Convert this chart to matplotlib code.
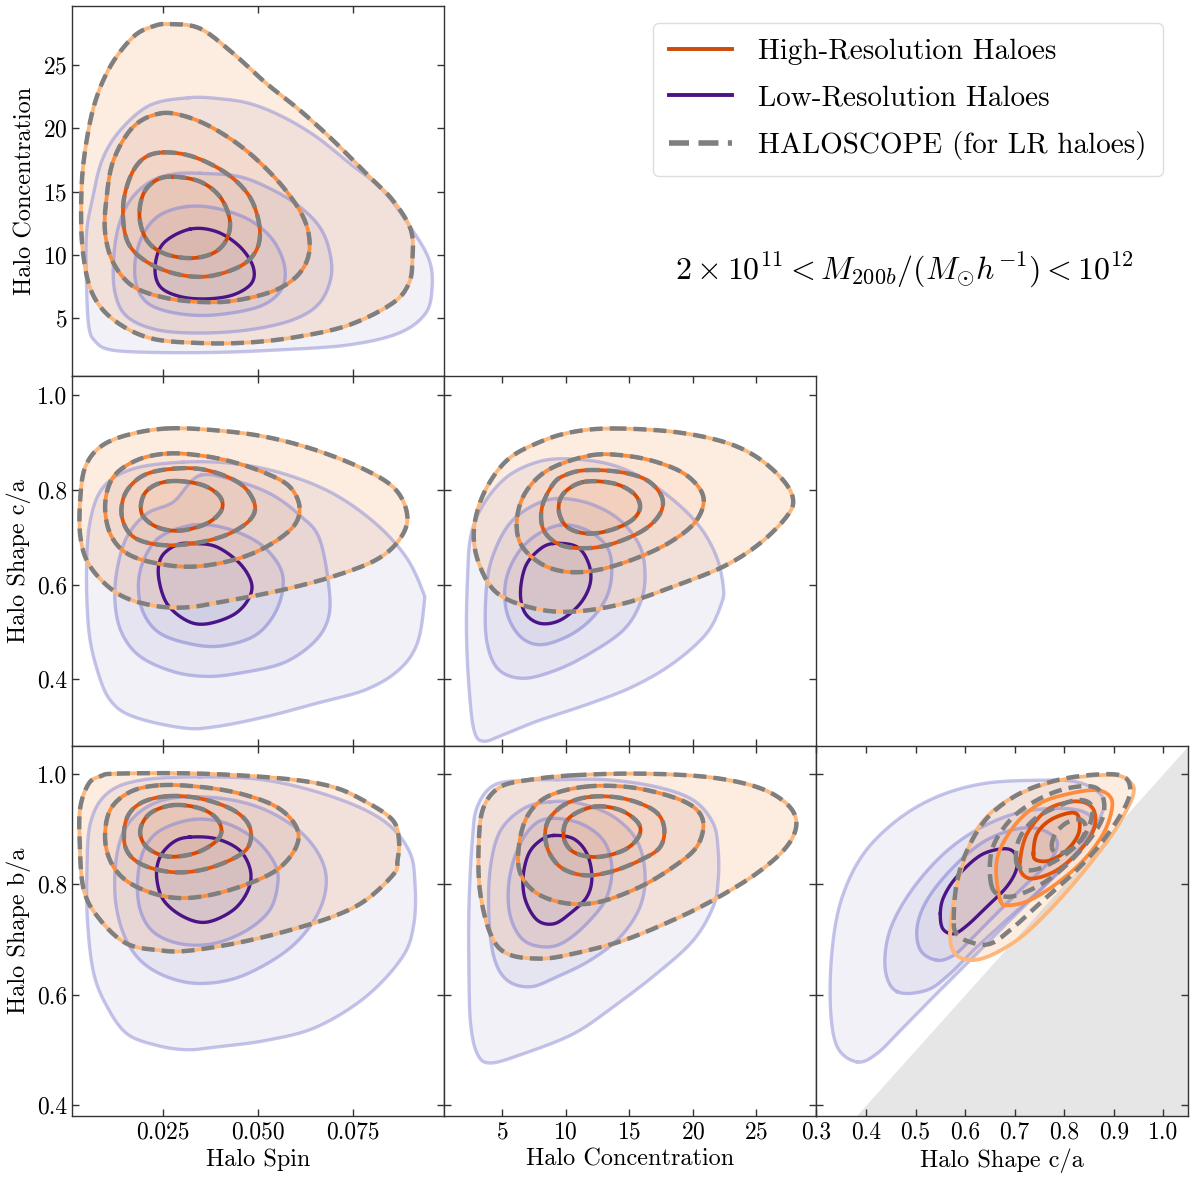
import matplotlib
matplotlib.use("Agg")
import matplotlib.pyplot as plt
import numpy as np
from matplotlib.lines import Line2D
from matplotlib.ticker import FormatStrFormatter

# Contours, outermost level first.
# Each contour is a closed list of (x, y) vertices in data units.

# ---- Halo Spin vs Halo Concentration ----
SPIN_CONC_HR = [
    [(0.0269, 28.24), (0.0348, 27.89), (0.0435, 25.92), (0.0522, 23.55), (0.0609, 21.45),
     (0.0696, 19.08), (0.0783, 16.45), (0.0853, 14.34), (0.0901, 11.97), (0.0905, 9.61),
     (0.0896, 7.76), (0.0853, 6.18), (0.0740, 4.47), (0.0609, 3.55), (0.0478, 3.08),
     (0.0348, 3.03), (0.0217, 3.42), (0.0121, 4.87), (0.0065, 6.97), (0.0041, 10.13),
     (0.0036, 13.82), (0.0043, 17.50), (0.0069, 21.71), (0.0112, 24.87), (0.0173, 27.24),
     (0.0226, 28.08)],
    [(0.0243, 21.18), (0.0313, 20.92), (0.0391, 19.87), (0.0478, 18.03), (0.0565, 15.39),
     (0.0622, 12.76), (0.0635, 10.39), (0.0609, 8.55), (0.0548, 7.24), (0.0452, 6.45),
     (0.0365, 6.26), (0.0261, 6.58), (0.0173, 7.50), (0.0121, 9.34), (0.0099, 11.71),
     (0.0102, 14.34), (0.0121, 17.50), (0.0173, 20.13)],
    [(0.0252, 18.10), (0.0330, 17.76), (0.0417, 16.45), (0.0478, 14.60), (0.0504, 12.24),
     (0.0496, 10.39), (0.0452, 9.08), (0.0365, 8.29), (0.0278, 8.55), (0.0200, 9.61),
     (0.0156, 11.18), (0.0146, 13.82), (0.0165, 16.18), (0.0200, 17.63)],
    [(0.0278, 16.18), (0.0348, 15.79), (0.0400, 14.60), (0.0426, 12.76), (0.0417, 11.18),
     (0.0382, 10.13), (0.0321, 9.74), (0.0252, 10.13), (0.0208, 11.18), (0.0189, 13.02),
     (0.0200, 14.87), (0.0234, 15.92)],
]
SPIN_CONC_LR = [
    [(0.0317, 22.42), (0.0391, 22.37), (0.0478, 21.97), (0.0565, 20.92), (0.0653, 19.34),
     (0.0740, 17.24), (0.0827, 15.13), (0.0905, 11.97), (0.0949, 9.61), (0.0957, 7.50),
     (0.0940, 5.39), (0.0870, 3.82), (0.0740, 2.89), (0.0565, 2.50), (0.0391, 2.29),
     (0.0217, 2.29), (0.0112, 2.50), (0.0073, 3.16), (0.0056, 4.34), (0.0050, 7.76),
     (0.0050, 11.71), (0.0065, 14.34), (0.0091, 17.50), (0.0139, 19.87), (0.0217, 21.84)],
    [(0.0348, 16.45), (0.0452, 16.18), (0.0539, 15.13), (0.0609, 13.82), (0.0661, 12.24),
     (0.0687, 10.39), (0.0692, 8.29), (0.0661, 6.18), (0.0592, 4.87), (0.0478, 4.08),
     (0.0348, 3.82), (0.0234, 4.08), (0.0156, 5.13), (0.0125, 6.97), (0.0121, 9.61),
     (0.0134, 12.24), (0.0165, 14.34), (0.0217, 15.79), (0.0278, 16.39)],
    [(0.0313, 13.82), (0.0391, 13.68), (0.0478, 12.76), (0.0539, 11.18), (0.0570, 9.08),
     (0.0561, 7.24), (0.0504, 5.92), (0.0391, 5.26), (0.0295, 5.34), (0.0217, 6.05),
     (0.0182, 7.50), (0.0178, 9.61), (0.0200, 11.71), (0.0243, 13.16)],
    [(0.0321, 12.03), (0.0391, 11.84), (0.0452, 10.66), (0.0487, 9.08), (0.0483, 7.76),
     (0.0435, 6.84), (0.0365, 6.52), (0.0295, 6.71), (0.0243, 7.50), (0.0230, 9.08),
     (0.0252, 10.92)],
]
SPIN_CONC_HS = SPIN_CONC_HR  # HALOSCOPE lies on top of the HR contours here

# ---- Halo Spin vs Halo Shape c/a ----
SPIN_CA_HR = [
    [(0.0261, 0.930), (0.0391, 0.926), (0.0522, 0.912), (0.0653, 0.884), (0.0783, 0.842),
     (0.0862, 0.800), (0.0892, 0.743), (0.0870, 0.694), (0.0809, 0.652), (0.0696, 0.617),
     (0.0565, 0.589), (0.0435, 0.568), (0.0313, 0.552), (0.0217, 0.557), (0.0130, 0.582),
     (0.0060, 0.638), (0.0034, 0.701), (0.0034, 0.786), (0.0047, 0.849), (0.0086, 0.891),
     (0.0156, 0.916)],
    [(0.0261, 0.877), (0.0348, 0.873), (0.0435, 0.859), (0.0522, 0.835), (0.0583, 0.807),
     (0.0609, 0.764), (0.0592, 0.722), (0.0522, 0.680), (0.0435, 0.652), (0.0330, 0.638),
     (0.0234, 0.645), (0.0156, 0.666), (0.0112, 0.708), (0.0099, 0.771), (0.0121, 0.828),
     (0.0182, 0.863)],
    [(0.0278, 0.845), (0.0365, 0.842), (0.0452, 0.814), (0.0491, 0.771), (0.0478, 0.736),
     (0.0417, 0.705), (0.0330, 0.687), (0.0243, 0.684), (0.0173, 0.701), (0.0143, 0.743),
     (0.0152, 0.793), (0.0200, 0.831)],
    [(0.0287, 0.819), (0.0356, 0.810), (0.0400, 0.786), (0.0404, 0.757), (0.0365, 0.729),
     (0.0295, 0.714), (0.0234, 0.722), (0.0195, 0.750), (0.0200, 0.789), (0.0234, 0.812)],
]
SPIN_CA_LR = [
    [(0.0304, 0.859), (0.0435, 0.856), (0.0565, 0.835), (0.0696, 0.793), (0.0809, 0.729),
     (0.0888, 0.659), (0.0931, 0.589), (0.0936, 0.560), (0.0918, 0.476), (0.0870, 0.420),
     (0.0783, 0.378), (0.0653, 0.349), (0.0522, 0.321), (0.0391, 0.300), (0.0304, 0.297),
     (0.0173, 0.321), (0.0112, 0.356), (0.0078, 0.420), (0.0056, 0.504), (0.0050, 0.631),
     (0.0060, 0.736), (0.0095, 0.807), (0.0173, 0.845)],
    [(0.0348, 0.831), (0.0452, 0.817), (0.0539, 0.789), (0.0609, 0.747), (0.0661, 0.698),
     (0.0687, 0.589), (0.0683, 0.525), (0.0644, 0.476), (0.0565, 0.434), (0.0452, 0.413),
     (0.0365, 0.406), (0.0278, 0.416), (0.0191, 0.448), (0.0143, 0.497), (0.0125, 0.560),
     (0.0130, 0.631), (0.0156, 0.701), (0.0208, 0.750), (0.0278, 0.775)],
    [(0.0330, 0.726), (0.0417, 0.719), (0.0504, 0.687), (0.0557, 0.638), (0.0565, 0.589),
     (0.0539, 0.532), (0.0487, 0.490), (0.0400, 0.470), (0.0321, 0.475), (0.0243, 0.497),
     (0.0200, 0.539), (0.0186, 0.596), (0.0200, 0.652), (0.0243, 0.701)],
    [(0.0330, 0.687), (0.0391, 0.680), (0.0452, 0.645), (0.0483, 0.603), (0.0474, 0.568),
     (0.0435, 0.536), (0.0365, 0.517), (0.0313, 0.524), (0.0261, 0.560), (0.0239, 0.617),
     (0.0247, 0.659), (0.0287, 0.684)],
]
SPIN_CA_HS = SPIN_CA_HR

# ---- Halo Concentration vs Halo Shape c/a ----
CONC_CA_HR = [
    [(13.76, 0.930), (18.46, 0.923), (22.39, 0.902), (25.00, 0.870), (27.09, 0.821),
     (27.88, 0.779), (27.35, 0.743), (25.26, 0.687), (22.39, 0.638), (18.46, 0.596),
     (14.54, 0.560), (10.62, 0.543), (7.48, 0.550), (4.61, 0.582), (3.17, 0.645),
     (2.78, 0.715), (3.56, 0.793), (5.39, 0.863), (8.01, 0.902), (10.62, 0.923)],
    [(11.93, 0.873), (14.54, 0.873), (17.16, 0.859), (19.51, 0.831), (20.82, 0.786),
     (20.29, 0.736), (18.46, 0.694), (15.85, 0.659), (12.71, 0.632), (10.10, 0.627),
     (8.01, 0.645), (6.44, 0.687), (6.18, 0.743), (6.96, 0.800), (8.79, 0.845)],
    [(11.67, 0.842), (14.28, 0.838), (16.37, 0.821), (17.55, 0.786), (17.42, 0.750),
     (16.11, 0.715), (13.76, 0.687), (11.67, 0.677), (9.58, 0.684), (8.27, 0.715),
     (8.14, 0.764), (9.05, 0.814), (10.10, 0.833)],
    [(11.41, 0.817), (13.76, 0.814), (15.33, 0.793), (15.85, 0.764), (15.20, 0.736),
     (13.50, 0.715), (11.67, 0.708), (10.10, 0.722), (9.45, 0.757), (9.84, 0.793)],
]
CONC_CA_LR = [
    [(10.10, 0.866), (13.24, 0.856), (15.85, 0.828), (18.46, 0.779), (20.56, 0.722),
     (21.86, 0.659), (22.39, 0.596), (22.25, 0.560), (21.08, 0.497), (18.46, 0.434),
     (15.33, 0.385), (11.93, 0.349), (8.01, 0.314), (5.39, 0.286), (3.56, 0.269),
     (2.78, 0.293), (2.39, 0.385), (2.20, 0.490), (2.25, 0.596), (2.52, 0.701),
     (3.56, 0.771), (5.39, 0.828), (7.75, 0.859)],
    [(9.31, 0.782), (11.93, 0.771), (14.28, 0.736), (15.85, 0.680), (16.24, 0.617),
     (15.85, 0.560), (14.54, 0.504), (11.93, 0.455), (9.31, 0.420), (6.70, 0.402),
     (4.74, 0.420), (3.82, 0.476), (3.69, 0.560), (4.08, 0.645), (5.39, 0.722),
     (7.22, 0.764)],
    [(9.58, 0.726), (11.67, 0.715), (13.24, 0.680), (13.63, 0.631), (13.24, 0.575),
     (11.93, 0.525), (10.10, 0.490), (8.01, 0.473), (6.44, 0.490), (5.39, 0.539),
     (5.26, 0.603), (6.05, 0.659), (7.48, 0.701)],
    [(9.05, 0.687), (10.88, 0.680), (11.80, 0.645), (11.93, 0.603), (11.14, 0.560),
     (9.58, 0.525), (8.01, 0.518), (6.83, 0.539), (6.44, 0.582), (6.83, 0.638),
     (7.88, 0.673)],
]
CONC_CA_HS = CONC_CA_HR

# ---- Halo Spin vs Halo Shape b/a ----
SPIN_BA_HR = [
    [(0.0130, 1.000), (0.0348, 1.000), (0.0565, 0.991), (0.0696, 0.976), (0.0783, 0.949),
     (0.0853, 0.916), (0.0870, 0.879), (0.0866, 0.843), (0.0857, 0.819), (0.0783, 0.771),
     (0.0696, 0.741), (0.0565, 0.713), (0.0435, 0.692), (0.0313, 0.679), (0.0243, 0.680),
     (0.0156, 0.692), (0.0086, 0.735), (0.0043, 0.789), (0.0032, 0.879), (0.0034, 0.940),
     (0.0056, 0.982), (0.0086, 0.995)],
    [(0.0243, 0.979), (0.0348, 0.976), (0.0452, 0.964), (0.0548, 0.940), (0.0600, 0.904),
     (0.0600, 0.867), (0.0548, 0.825), (0.0452, 0.795), (0.0348, 0.777), (0.0261, 0.777),
     (0.0173, 0.798), (0.0121, 0.831), (0.0099, 0.879), (0.0112, 0.934), (0.0165, 0.967)],
    [(0.0261, 0.959), (0.0348, 0.955), (0.0435, 0.934), (0.0478, 0.904), (0.0474, 0.867),
     (0.0426, 0.843), (0.0348, 0.825), (0.0269, 0.822), (0.0191, 0.837), (0.0152, 0.867),
     (0.0154, 0.916), (0.0191, 0.946)],
    [(0.0278, 0.943), (0.0348, 0.937), (0.0391, 0.919), (0.0404, 0.894), (0.0382, 0.873),
     (0.0330, 0.855), (0.0261, 0.850), (0.0208, 0.867), (0.0191, 0.897), (0.0217, 0.928)],
]
SPIN_BA_LR = [
    [(0.0348, 0.994), (0.0522, 0.988), (0.0696, 0.958), (0.0827, 0.916), (0.0896, 0.861),
     (0.0912, 0.801), (0.0909, 0.728), (0.0879, 0.668), (0.0783, 0.596), (0.0653, 0.541),
     (0.0522, 0.517), (0.0391, 0.505), (0.0313, 0.500), (0.0234, 0.508), (0.0156, 0.529),
     (0.0104, 0.578), (0.0069, 0.638), (0.0053, 0.728), (0.0051, 0.819), (0.0060, 0.910),
     (0.0104, 0.964), (0.0191, 0.988)],
    [(0.0313, 0.958), (0.0435, 0.952), (0.0539, 0.928), (0.0626, 0.885), (0.0674, 0.831),
     (0.0674, 0.777), (0.0635, 0.722), (0.0565, 0.674), (0.0452, 0.632), (0.0348, 0.620),
     (0.0261, 0.632), (0.0191, 0.662), (0.0147, 0.710), (0.0125, 0.777), (0.0130, 0.855),
     (0.0160, 0.910), (0.0226, 0.946)],
    [(0.0330, 0.917), (0.0417, 0.910), (0.0496, 0.879), (0.0544, 0.837), (0.0552, 0.801),
     (0.0531, 0.753), (0.0470, 0.716), (0.0382, 0.692), (0.0295, 0.692), (0.0226, 0.713),
     (0.0191, 0.753), (0.0184, 0.807), (0.0200, 0.861), (0.0243, 0.897)],
    [(0.0321, 0.885), (0.0391, 0.882), (0.0452, 0.861), (0.0480, 0.825), (0.0474, 0.789),
     (0.0435, 0.753), (0.0365, 0.731), (0.0304, 0.741), (0.0252, 0.771), (0.0234, 0.813),
     (0.0243, 0.849), (0.0278, 0.876)],
]
SPIN_BA_HS = SPIN_BA_HR

# ---- Halo Concentration vs Halo Shape b/a ----
CONC_BA_HR = [
    [(10.62, 0.997), (15.85, 1.000), (21.08, 0.994), (25.00, 0.976), (27.35, 0.946),
     (28.14, 0.910), (27.35, 0.867), (25.00, 0.819), (21.60, 0.771), (18.46, 0.735),
     (14.54, 0.698), (10.62, 0.674), (8.01, 0.665), (5.39, 0.674), (4.08, 0.710),
     (3.25, 0.789), (3.17, 0.879), (3.56, 0.940), (4.87, 0.976), (7.22, 0.989)],
    [(11.41, 0.976), (14.80, 0.976), (17.94, 0.961), (20.03, 0.940), (20.82, 0.910),
     (20.29, 0.867), (18.46, 0.831), (15.85, 0.795), (12.71, 0.768), (10.10, 0.765),
     (7.75, 0.783), (6.44, 0.819), (6.31, 0.867), (6.96, 0.922), (8.53, 0.958)],
    [(11.93, 0.958), (14.54, 0.955), (16.90, 0.934), (17.73, 0.904), (17.42, 0.867),
     (15.85, 0.843), (13.50, 0.822), (11.41, 0.816), (9.58, 0.831), (8.53, 0.867),
     (8.53, 0.910), (9.84, 0.943)],
    [(12.19, 0.940), (14.28, 0.934), (15.72, 0.910), (15.72, 0.885), (14.54, 0.861),
     (12.45, 0.849), (10.62, 0.858), (9.84, 0.885), (10.23, 0.919)],
]
CONC_BA_LR = [
    [(9.31, 0.989), (13.24, 0.989), (17.16, 0.976), (20.03, 0.952), (21.60, 0.910),
     (21.99, 0.861), (21.99, 0.807), (21.60, 0.759), (20.03, 0.698), (17.16, 0.638),
     (13.76, 0.578), (10.62, 0.529), (6.70, 0.493), (4.08, 0.476), (3.04, 0.493),
     (2.52, 0.547), (2.39, 0.638), (2.39, 0.759), (2.65, 0.879), (3.04, 0.940),
     (4.35, 0.979), (6.70, 0.988)],
    [(8.79, 0.949), (11.14, 0.946), (13.76, 0.922), (15.59, 0.879), (16.24, 0.819),
     (15.85, 0.759), (14.28, 0.704), (11.93, 0.662), (9.31, 0.632), (7.22, 0.614),
     (5.39, 0.626), (4.35, 0.668), (3.95, 0.747), (4.08, 0.831), (4.87, 0.897),
     (6.70, 0.937)],
    [(8.79, 0.919), (11.14, 0.910), (12.97, 0.879), (13.63, 0.831), (13.24, 0.777),
     (11.93, 0.735), (10.10, 0.698), (8.53, 0.686), (6.70, 0.698), (5.65, 0.741),
     (5.52, 0.801), (6.18, 0.861), (7.35, 0.904)],
    [(9.05, 0.888), (10.62, 0.882), (11.67, 0.855), (12.06, 0.813), (11.67, 0.777),
     (10.36, 0.747), (9.05, 0.728), (7.75, 0.735), (6.83, 0.771), (6.65, 0.813),
     (7.09, 0.855), (8.01, 0.879)],
]
CONC_BA_HS = CONC_BA_HR

# ---- Halo Shape c/a vs Halo Shape b/a ----
CA_BA_HR = [
    [(0.570, 0.710), (0.580, 0.783), (0.610, 0.873), (0.644, 0.922), (0.698, 0.958),
     (0.765, 0.982), (0.832, 0.994), (0.906, 0.997), (0.936, 0.982), (0.940, 0.964),
     (0.926, 0.934), (0.893, 0.885), (0.825, 0.807), (0.758, 0.741), (0.704, 0.698),
     (0.644, 0.668), (0.604, 0.663), (0.577, 0.677)],
    [(0.671, 0.771), (0.664, 0.843), (0.698, 0.904), (0.751, 0.946), (0.812, 0.964),
     (0.866, 0.970), (0.893, 0.958), (0.896, 0.934), (0.879, 0.891), (0.839, 0.843),
     (0.785, 0.801), (0.731, 0.771), (0.691, 0.762)],
    [(0.711, 0.843), (0.725, 0.891), (0.765, 0.934), (0.812, 0.949), (0.846, 0.946),
     (0.862, 0.928), (0.859, 0.897), (0.832, 0.861), (0.785, 0.825), (0.738, 0.810),
     (0.715, 0.819)],
    [(0.738, 0.855), (0.745, 0.891), (0.772, 0.916), (0.812, 0.929), (0.829, 0.922),
     (0.829, 0.891), (0.805, 0.861), (0.772, 0.843), (0.745, 0.843)],
]
CA_BA_LR = [
    [(0.382, 0.478), (0.342, 0.505), (0.328, 0.578), (0.332, 0.686), (0.352, 0.777),
     (0.395, 0.855), (0.463, 0.916), (0.543, 0.958), (0.637, 0.982), (0.745, 0.988),
     (0.825, 0.985), (0.872, 0.964), (0.879, 0.934), (0.839, 0.873), (0.772, 0.807),
     (0.691, 0.735), (0.610, 0.662), (0.543, 0.602), (0.476, 0.541), (0.422, 0.493)],
    [(0.463, 0.605), (0.439, 0.644), (0.446, 0.710), (0.483, 0.777), (0.543, 0.843),
     (0.610, 0.891), (0.691, 0.925), (0.772, 0.937), (0.839, 0.931), (0.859, 0.904),
     (0.825, 0.855), (0.758, 0.795), (0.691, 0.741), (0.624, 0.686), (0.570, 0.638),
     (0.523, 0.608)],
    [(0.543, 0.662), (0.510, 0.680), (0.503, 0.722), (0.523, 0.771), (0.570, 0.825),
     (0.631, 0.873), (0.691, 0.897), (0.745, 0.901), (0.785, 0.879), (0.772, 0.843),
     (0.718, 0.795), (0.664, 0.747), (0.610, 0.698), (0.577, 0.671)],
    [(0.550, 0.747), (0.557, 0.777), (0.583, 0.813), (0.631, 0.852), (0.678, 0.864),
     (0.701, 0.855), (0.704, 0.828), (0.684, 0.795), (0.644, 0.759), (0.604, 0.725),
     (0.577, 0.710), (0.555, 0.719)],
]
CA_BA_HS = [
    [(0.577, 0.735), (0.583, 0.801), (0.604, 0.861), (0.644, 0.919), (0.704, 0.961),
     (0.772, 0.985), (0.846, 0.997), (0.913, 0.997), (0.933, 0.976), (0.923, 0.940),
     (0.879, 0.879), (0.825, 0.825), (0.758, 0.771), (0.698, 0.722), (0.651, 0.692),
     (0.610, 0.695), (0.583, 0.710)],
    [(0.654, 0.795), (0.654, 0.861), (0.691, 0.916), (0.745, 0.952), (0.805, 0.973),
     (0.859, 0.976), (0.879, 0.955), (0.876, 0.916), (0.839, 0.867), (0.785, 0.819),
     (0.731, 0.789), (0.684, 0.777)],
    [(0.704, 0.837), (0.708, 0.879), (0.738, 0.916), (0.785, 0.940), (0.825, 0.952),
     (0.852, 0.946), (0.856, 0.922), (0.839, 0.885), (0.805, 0.855), (0.758, 0.831),
     (0.725, 0.825)],
    [(0.775, 0.867), (0.782, 0.891), (0.805, 0.911), (0.832, 0.917), (0.844, 0.902),
     (0.833, 0.879), (0.809, 0.861), (0.786, 0.856)],
]

SPIN_LIM = (0.0012, 0.0988)
CONC_LIM = (0.43, 29.68)
CA_XLIM = (0.299, 1.050)
CA_YLIM = (0.259, 1.041)
BA_LIM = (0.38, 1.05)

SPIN_TICKS = [0.025, 0.050, 0.075]
CONC_TICKS = [5, 10, 15, 20, 25]
CA_XTICKS = [0.3, 0.4, 0.5, 0.6, 0.7, 0.8, 0.9, 1.0]
SHAPE_YTICKS = [0.4, 0.6, 0.8, 1.0]

LEGEND_LABELS = ["High-Resolution Haloes", "Low-Resolution Haloes", "HALOSCOPE (for LR haloes)"]
MASS_BIN = r"$2 \times 10^{11} < M_{200b}/(M_{\odot}h^{-1}) < 10^{12}$"

LR_LINE_COLORS = ["#8a8ad6", "#8a8ad6", "#8a8ad6", "#4a1486"]
LR_LINE_ALPHA = [0.5, 0.55, 0.6, 1.0]
HR_LINE_COLORS = ["#fdb77a", "#fd8d3c", "#e6550d", "#d94801"]
HR_FILL_ALPHA = [0.15, 0.07, 0.06, 0.06]

DASH = (0, (2.9, 1.6))


def smooth_closed(points, n=20):
    # periodic Catmull-Rom through the read-off vertices
    p = np.asarray(points, dtype=float)
    p0, p1, p2, p3 = np.roll(p, 1, 0), p, np.roll(p, -1, 0), np.roll(p, -2, 0)
    t = np.linspace(0, 1, n, endpoint=False)[:, None, None]
    c = 0.5 * (2 * p1 + (-p0 + p2) * t + (2 * p0 - 5 * p1 + 4 * p2 - p3) * t**2
               + (-p0 + 3 * p1 - 3 * p2 + p3) * t**3)
    c = c.transpose(1, 0, 2).reshape(-1, 2)
    return np.vstack([c, c[:1]])


def draw_pair(ax, lr, hr, hs):
    for cont in lr:
        c = smooth_closed(cont)
        ax.fill(c[:, 0], c[:, 1], color="#756bb1", alpha=0.09, lw=0, zorder=1)
    for cont, a in zip(hr, HR_FILL_ALPHA):
        c = smooth_closed(cont)
        ax.fill(c[:, 0], c[:, 1], color="#f5883c", alpha=a, lw=0, zorder=2)
    for cont, col, a in zip(lr, LR_LINE_COLORS, LR_LINE_ALPHA):
        c = smooth_closed(cont)
        ax.plot(c[:, 0], c[:, 1], color=col, alpha=a, lw=2.4, zorder=3)
    for cont, col in zip(hr, HR_LINE_COLORS):
        c = smooth_closed(cont)
        ax.plot(c[:, 0], c[:, 1], color=col, lw=2.7, zorder=4)
    for cont in hs:
        c = smooth_closed(cont)
        ax.plot(c[:, 0], c[:, 1], color="#7f7f7f", lw=3.2, ls=DASH, zorder=5)


def main():
    plt.rcParams.update({
        "font.family": "serif",
        "font.serif": ["cmr10", "DejaVu Serif"],
        "mathtext.fontset": "cm",
        "axes.formatter.use_mathtext": True,
        "axes.edgecolor": "#333333",
        "axes.linewidth": 1.0,
        "xtick.labelsize": 17,
        "ytick.labelsize": 17,
        "axes.labelsize": 17.5,
    })

    fig, axes = plt.subplots(3, 3, figsize=(12, 11.8), dpi=100)
    fig.subplots_adjust(left=0.06, right=0.99, bottom=0.0542, top=0.995, wspace=0, hspace=0)

    panels = {
        (0, 0): (SPIN_CONC_LR, SPIN_CONC_HR, SPIN_CONC_HS, SPIN_LIM, CONC_LIM),
        (1, 0): (SPIN_CA_LR, SPIN_CA_HR, SPIN_CA_HS, SPIN_LIM, CA_YLIM),
        (1, 1): (CONC_CA_LR, CONC_CA_HR, CONC_CA_HS, CONC_LIM, CA_YLIM),
        (2, 0): (SPIN_BA_LR, SPIN_BA_HR, SPIN_BA_HS, SPIN_LIM, BA_LIM),
        (2, 1): (CONC_BA_LR, CONC_BA_HR, CONC_BA_HS, CONC_LIM, BA_LIM),
        (2, 2): (CA_BA_LR, CA_BA_HR, CA_BA_HS, CA_XLIM, BA_LIM),
    }
    xticks = {0: SPIN_TICKS, 1: CONC_TICKS, 2: CA_XTICKS}
    yticks = {0: CONC_TICKS, 1: SHAPE_YTICKS, 2: SHAPE_YTICKS}
    xlabels = ["Halo Spin", "Halo Concentration", "Halo Shape c/a"]
    ylabels = ["Halo Concentration", "Halo Shape c/a", "Halo Shape b/a"]

    for r in range(3):
        for c in range(3):
            ax = axes[r, c]
            if (r, c) not in panels:
                ax.axis("off")
                continue
            lr, hr, hs, xlim, ylim = panels[(r, c)]
            draw_pair(ax, lr, hr, hs)
            if (r, c) == (2, 2):
                # forbidden region b/a < c/a
                xs = np.array(xlim)
                ax.fill_between(xs, ylim[0], xs, color="#e6e6e6", lw=0, zorder=0.5)
            ax.set_xlim(xlim)
            ax.set_ylim(ylim)
            ax.set_xticks(xticks[c])
            ax.set_yticks(yticks[r])
            ax.tick_params(direction="in", top=True, right=True, length=5, width=1,
                           colors="#333333", labelcolor="black")
            if c == 0:
                ax.xaxis.set_major_formatter(FormatStrFormatter("%.3f"))
            elif c == 2:
                ax.xaxis.set_major_formatter(FormatStrFormatter("%.1f"))
            if r > 0:
                ax.yaxis.set_major_formatter(FormatStrFormatter("%.1f"))
            if r == 2:
                ax.set_xlabel(xlabels[c])
            else:
                ax.tick_params(labelbottom=False)
            if c == 0:
                ax.set_ylabel(ylabels[r])
            else:
                ax.tick_params(labelleft=False)

    handles = [
        Line2D([], [], color="#cc4a0a", lw=2.8),
        Line2D([], [], color="#4a1486", lw=2.8),
        Line2D([], [], color="#7f7f7f", lw=4.0, ls=(0, (3.6, 1.7))),
    ]
    fig.legend(handles, LEGEND_LABELS, loc="upper right",
               bbox_to_anchor=(1163 / 1200, 1 - 23 / 1180), borderaxespad=0, fontsize=21,
               frameon=True, fancybox=True, edgecolor="#dddddd", framealpha=1.0,
               handlelength=2.15, handletextpad=0.9, borderpad=0.55, labelspacing=0.67)
    fig.text(904 / 1200, 1 - 270 / 1180, MASS_BIN, ha="center", va="center", fontsize=23)

    fig.savefig("out.png", dpi=100)
    plt.close(fig)


if __name__ == "__main__":
    main()
